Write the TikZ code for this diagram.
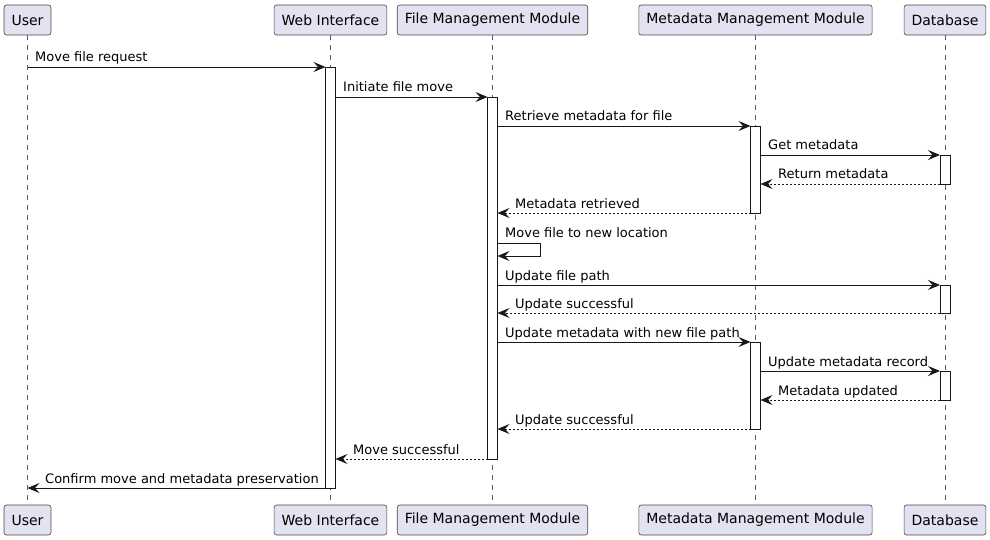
\documentclass[tikz,border=0pt]{standalone}
\usepackage{fontspec}
\setmainfont{DejaVu Sans}
\usetikzlibrary{arrows.meta}
\definecolor{partfill}{HTML}{E2E2F0}
\definecolor{lineclr}{HTML}{181818}
\begin{document}
\begin{tikzpicture}[x=1pt,y=-1pt,
 part/.style={draw=lineclr!80, fill=partfill, rounded corners=2.5pt, minimum height=30pt, inner xsep=7.5pt, font=\fontsize{14}{16}\selectfont, line width=0.6pt},
 life/.style={draw=lineclr!70, dash pattern=on 5pt off 5pt, line width=0.5pt},
 actbox/.style={draw=lineclr, fill=white, line width=0.8pt},
 msg/.style={draw=lineclr, line width=0.9pt, -{Stealth[length=12pt,width=10pt,inset=4.5pt]}},
 ret/.style={msg, dash pattern=on 2pt off 2pt},
 lbl/.style={font=\fontsize{13}{15}\selectfont, inner sep=0pt, anchor=base west}]
\useasboundingbox (0,0) rectangle (990,540);
% participants
\node[part] (uT) at (27.5,20) {User};
\node[part] (wT) at (330.5,20) {Web Interface};
\node[part] (fT) at (492.5,20) {File Management Module};
\node[part] (mT) at (755.5,20) {Metadata Management Module};
\node[part] (dT) at (945,20) {Database};
\node[part] (uB) at (27.5,520) {User};
\node[part] (wB) at (330.5,520) {Web Interface};
\node[part] (fB) at (492.5,520) {File Management Module};
\node[part] (mB) at (755.5,520) {Metadata Management Module};
\node[part] (dB) at (945,520) {Database};
% lifelines
\draw[life] (uT.south) -- (uB.north);
\draw[life] (wT.south) -- (wB.north);
\draw[life] (fT.south) -- (fB.north);
\draw[life] (mT.south) -- (mB.north);
\draw[life] (dT.south) -- (dB.north);
% activations
\draw[actbox] (325.5,67) rectangle (335.5,488);
\draw[actbox] (487.5,97) rectangle (497.5,459);
\draw[actbox] (750.5,126) rectangle (760.5,213);
\draw[actbox] (750.5,342) rectangle (760.5,429);
\draw[actbox] (940,155) rectangle (950,184);
\draw[actbox] (940,285) rectangle (950,313);
\draw[actbox] (940,371) rectangle (950,400);
% message end points
\coordinate (a1) at (27.5,67);   \coordinate (b1) at (325.5,67);
\coordinate (a2) at (335.5,97);  \coordinate (b2) at (487.5,97);
\coordinate (a3) at (497.5,126); \coordinate (b3) at (750.5,126);
\coordinate (a4) at (760.5,155); \coordinate (b4) at (940,155);
\coordinate (a5) at (940,184);   \coordinate (b5) at (760.5,184);
\coordinate (a6) at (750.5,213); \coordinate (b6) at (497.5,213);
\coordinate (a7) at (497.5,243); \coordinate (b7) at (497.5,256);
\coordinate (a8) at (497.5,285); \coordinate (b8) at (940,285);
\coordinate (a9) at (940,313);   \coordinate (b9) at (497.5,313);
\coordinate (a10) at (497.5,342); \coordinate (b10) at (750.5,342);
\coordinate (a11) at (760.5,371); \coordinate (b11) at (940,371);
\coordinate (a12) at (940,400);   \coordinate (b12) at (760.5,400);
\coordinate (a13) at (750.5,429); \coordinate (b13) at (497.5,429);
\coordinate (a14) at (487.5,459); \coordinate (b14) at (335.5,459);
\coordinate (a15) at (325.5,488); \coordinate (b15) at (27.5,488);
% messages
\draw[msg] (a1) -- (b1);   \node[lbl] (l1) at (35,62) {Move file request};
\draw[msg] (a2) -- (b2);   \node[lbl] (l2) at (343,92) {Initiate file move};
\draw[msg] (a3) -- (b3);   \node[lbl] (l3) at (505,121) {Retrieve metadata for file};
\draw[msg] (a4) -- (b4);   \node[lbl] (l4) at (768,150) {Get metadata};
\draw[ret] (a5) -- (b5);   \node[lbl] (l5) at (778,179) {Return metadata};
\draw[ret] (a6) -- (b6);   \node[lbl] (l6) at (515,208) {Metadata retrieved};
\draw[msg] (a7) -- (540,243) -- (540,256) -- (b7); \node[lbl] (l7) at (505,237) {Move file to new location};
\draw[msg] (a8) -- (b8);   \node[lbl] (l8) at (505,280) {Update file path};
\draw[ret] (a9) -- (b9);   \node[lbl] (l9) at (515,308) {Update successful};
\draw[msg] (a10) -- (b10); \node[lbl] (l10) at (505,337) {Update metadata with new file path};
\draw[msg] (a11) -- (b11); \node[lbl] (l11) at (768,366) {Update metadata record};
\draw[ret] (a12) -- (b12); \node[lbl] (l12) at (778,395) {Metadata updated};
\draw[ret] (a13) -- (b13); \node[lbl] (l13) at (515,424) {Update successful};
\draw[ret] (a14) -- (b14); \node[lbl] (l14) at (353,454) {Move successful};
\draw[msg] (a15) -- (b15); \node[lbl] (l15) at (45,483) {Confirm move and metadata preservation};
\end{tikzpicture}
\end{document}
